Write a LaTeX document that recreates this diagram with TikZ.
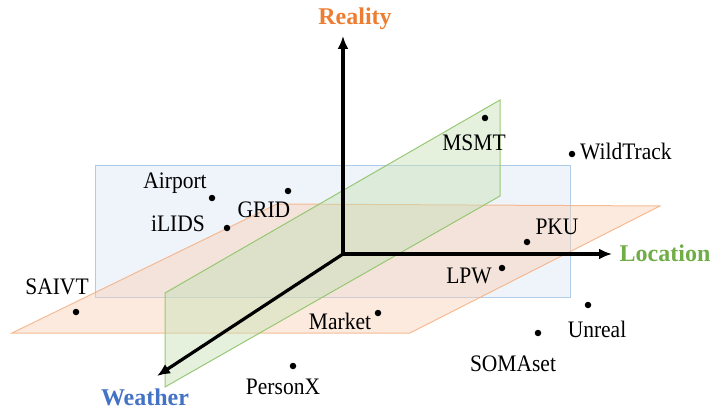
\documentclass[tikz,border=0pt]{standalone}
\usepackage{fontspec}
\setmainfont{Liberation Serif}
\usetikzlibrary{arrows.meta}
\definecolor{realityc}{HTML}{ED7D31}
\definecolor{locc}{HTML}{70AD47}
\definecolor{weatherc}{HTML}{4472C4}
\definecolor{bluefill}{HTML}{DAE3F3}
\definecolor{blueedge}{HTML}{9DC3E6}
\definecolor{orfill}{HTML}{F8CBAD}
\definecolor{oredge}{HTML}{F4B183}
\definecolor{grfill}{HTML}{C5E0B4}
\definecolor{gredge}{HTML}{8FC46A}
\newcommand{\tallt}[1]{\scalebox{1}[1.1]{#1}}
\begin{document}
\begin{tikzpicture}[x=1pt,y=-1pt,
  lbl/.style={font=\fontsize{21.5}{23}\selectfont, inner sep=0pt},
  axlbl/.style={font=\fontsize{24}{26}\selectfont\bfseries, inner sep=0pt},
  dot/.style={circle, fill=black, inner sep=0pt, minimum size=6.5pt},
  axis/.style={line width=3.2pt, -{Latex[length=13pt,width=11pt]}},
  planeB/.style={draw=blueedge, fill=bluefill, fill opacity=0.42, draw opacity=0.8, line width=1pt},
  planeO/.style={draw=oredge, fill=orfill, fill opacity=0.4, draw opacity=0.85, line width=1pt},
  planeG/.style={draw=gredge, fill=grfill, fill opacity=0.45, draw opacity=0.9, line width=1pt}]
\useasboundingbox (0,0) rectangle (725,409);
% planes
\draw[planeB] (95,165) rectangle (570,297);
\draw[planeO] (277,204) -- (660,206) -- (410,333) -- (12,333) -- cycle;
\draw[planeG] (165,293) -- (500,100) -- (500,196) -- (165,387) -- cycle;
% axes
\coordinate (O) at (343,254);
\coordinate (Rt) at (343,36);
\coordinate (Lt) at (612,254);
\coordinate (Wt) at (157,376);
\draw[axis] (O) -- (Rt);
\draw[axis] (O) -- (Lt);
\draw[axis, line cap=round] (O) -- (Wt);
\node[axlbl, text=realityc] (lR) at (355,19) {Reality};
\node[axlbl, text=locc] (lL) at (665,253) {Location};
\node[axlbl, text=weatherc] (lW) at (145,397) {Weather};
% datasets
\node[dot] (dMSMT) at (485,118) {};
\node[lbl] (tMSMT) at (474,143) {\tallt{MSMT}};
\node[dot] (dWild) at (572,154) {};
\node[lbl, anchor=west] (tWild) at (580,151) {\tallt{WildTrack}};
\node[dot] (dAir) at (212,198) {};
\node[lbl] (tAir) at (175,183) {\tallt{Airport}};
\node[dot] (dGRID) at (288,191) {};
\node[lbl] (tGRID) at (264,210) {\tallt{GRID}};
\node[dot] (dILIDS) at (227,228) {};
\node[lbl] (tILIDS) at (178,224) {\tallt{iLIDS}};
\node[dot] (dPKU) at (527,242) {};
\node[lbl] (tPKU) at (557,227) {\tallt{PKU}};
\node[dot] (dLPW) at (502,268) {};
\node[lbl] (tLPW) at (469,276) {\tallt{LPW}};
\node[dot] (dSAIVT) at (76,312) {};
\node[lbl] (tSAIVT) at (57,287) {\tallt{SAIVT}};
\node[dot] (dMarket) at (378,313) {};
\node[lbl] (tMarket) at (340,321) {\tallt{Market}};
\node[dot] (dPersonX) at (293,366) {};
\node[lbl] (tPersonX) at (283,387) {\tallt{PersonX}};
\node[dot] (dUnreal) at (588,305) {};
\node[lbl] (tUnreal) at (597,329) {\tallt{Unreal}};
\node[dot] (dSOMA) at (538,333) {};
\node[lbl] (tSOMA) at (513,364) {\tallt{SOMAset}};
\end{tikzpicture}
\end{document}
